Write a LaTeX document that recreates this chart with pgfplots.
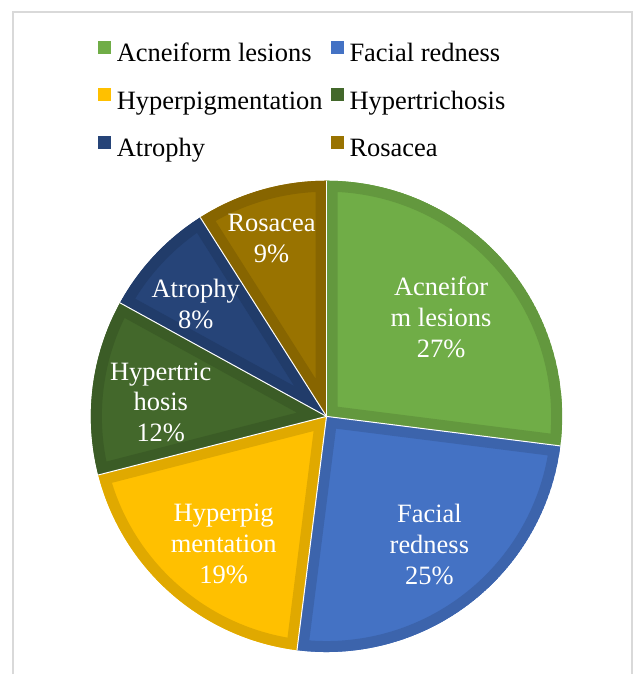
\documentclass[border=0pt]{standalone}
\usepackage{pgfplots}
\pgfplotsset{compat=1.18}
\usepackage{pgfplotstable}
\usepackage{fontspec}
\setmainfont{Liberation Serif}

\definecolor{cAcne}{HTML}{70AD47}
\definecolor{cRed}{HTML}{4472C4}
\definecolor{cPig}{HTML}{FFC000}
\definecolor{cTric}{HTML}{43682B}
\definecolor{cAtro}{HTML}{264478}
\definecolor{cRosa}{HTML}{997300}

% share in percent, clockwise from 12 o'clock; lx,ly = label centre (pt from pie centre)
\pgfplotstableread[col sep=comma]{
name,value,color,label,lx,ly
Acneiform lesions,27,cAcne,{Acneifor\\m lesions},114.7,99
Facial redness,25,cRed,{Facial\\redness},103,-128
Hyperpigmentation,19,cPig,{Hyperpig\\mentation},-103,-128
Hypertrichosis,12,cTric,{Hypertric\\hosis},-166,14
Atrophy,8,cAtro,Atrophy,-131,113
Rosacea,9,cRosa,Rosacea,-55,178.5
}\piedata

\newcommand\bigfont{\fontsize{26.5}{31}\selectfont}

\begin{document}
\begin{tikzpicture}
\path (-327pt,-258pt) rectangle (308pt,417pt);
\draw[color=black!15, line width=2pt] (-314pt,-258pt) -- (-314pt,405pt) -- (306pt,405pt) -- (306pt,-258pt);
\begin{axis}[
    at={(0pt,0pt)}, anchor=center,
    scale only axis, width=472pt, height=472pt,
    xmin=-236, xmax=236, ymin=-236, ymax=236,
    hide axis, clip=false,
    legend columns=2,
    legend style={
        at={(axis description cs:0.0148,1.2966)}, anchor=north west,
        draw=none, fill=none, inner sep=0pt, outer sep=0pt,
        font=\bigfont, row sep=20.5pt, column sep=6pt,
        /tikz/every even column/.append style={column sep=8pt},
        nodes={inner sep=0pt, text height=18pt, text depth=6pt},
    },
    legend cell align=left,
    legend image code/.code={\fill[#1] (0pt,2pt) rectangle (13pt,15pt);},
]
\addlegendimage{fill=cAcne, draw=none}\addlegendentry{Acneiform lesions}
\addlegendimage{fill=cRed, draw=none}\addlegendentry{Facial redness}
\addlegendimage{fill=cPig, draw=none}\addlegendentry{Hyperpigmentation}
\addlegendimage{fill=cTric, draw=none}\addlegendentry{Hypertrichosis}
\addlegendimage{fill=cAtro, draw=none}\addlegendentry{Atrophy}
\addlegendimage{fill=cRosa, draw=none}\addlegendentry{Rosacea}

\pgfplotsextra{
  \pgfplotstablegetrowsof{\piedata}
  \pgfmathtruncatemacro\lastrow{\pgfplotsretval-1}
  \gdef\cum{0}
  \foreach \i in {0,...,\lastrow}{
    \pgfplotstablegetelem{\i}{value}\of{\piedata}\let\val\pgfplotsretval
    \pgfplotstablegetelem{\i}{color}\of{\piedata}\let\col\pgfplotsretval
    \pgfplotstablegetelem{\i}{label}\of{\piedata}\let\lbl\pgfplotsretval
    \pgfplotstablegetelem{\i}{lx}\of{\piedata}\let\lx\pgfplotsretval
    \pgfplotstablegetelem{\i}{ly}\of{\piedata}\let\ly\pgfplotsretval
    \pgfmathsetmacro\aA{90-3.6*\cum}
    \pgfmathsetmacro\aB{90-3.6*(\cum+\val)}
    \begin{scope}
      \clip (axis cs:0,0) -- (axis cs:{236*cos(\aA)},{236*sin(\aA)})
        arc[start angle=\aA, end angle=\aB, radius=236] -- cycle;
      \filldraw[fill=\col, draw=\col!88!black, line width=22pt]
        (axis cs:0,0) -- (axis cs:{236*cos(\aA)},{236*sin(\aA)})
        arc[start angle=\aA, end angle=\aB, radius=236] -- cycle;
    \end{scope}
    \node[text=white, align=center, font=\bigfont, inner sep=0pt]
      at (axis cs:\lx,\ly) {\lbl\\\val\%};
    \pgfmathsetmacro\newcum{\cum+\val}
    \xdef\cum{\newcum}
  }
  % thin white seams between the slices
  \gdef\cum{0}
  \foreach \i in {0,...,\lastrow}{
    \pgfplotstablegetelem{\i}{value}\of{\piedata}\let\val\pgfplotsretval
    \pgfmathsetmacro\aA{90-3.6*\cum}
    \draw[white, line width=1pt] (axis cs:0,0) -- (axis cs:{236*cos(\aA)},{236*sin(\aA)});
    \pgfmathsetmacro\newcum{\cum+\val}
    \xdef\cum{\newcum}
  }
}
\end{axis}
\end{tikzpicture}
\end{document}
